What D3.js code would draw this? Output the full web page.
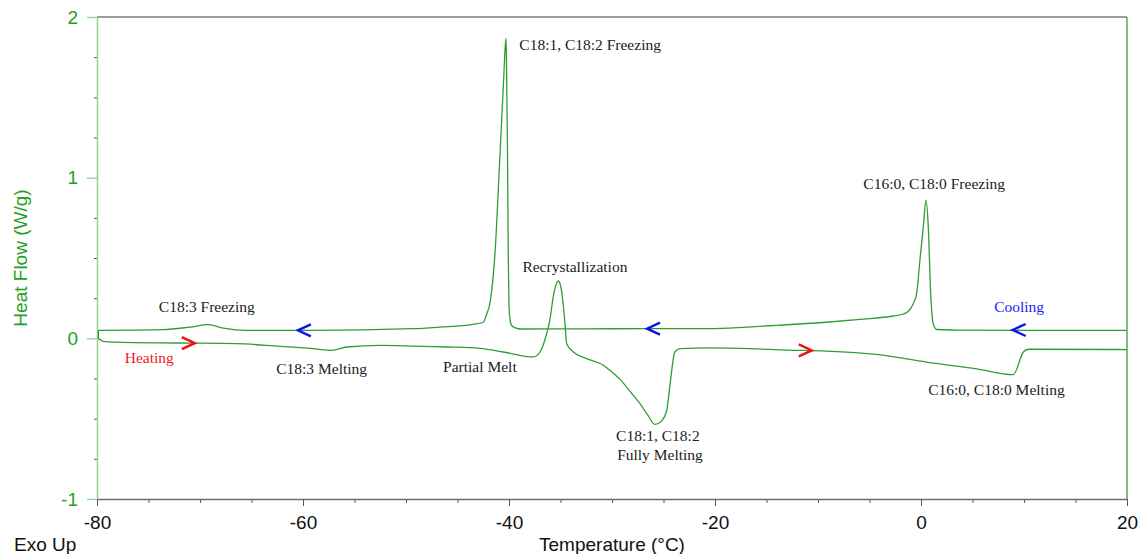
<!DOCTYPE html>
<html>
<head>
<meta charset="utf-8">
<script src="https://cdn.jsdelivr.net/npm/d3@7"></script>
<style>
  body { margin: 0; background: #fff; }
  #container { width: 1143px; height: 554px; }
  .tick text { font-family: "Liberation Sans", Arial, sans-serif; }
</style>
</head>
<body>
<div id="container"></div>
<script>
// temperature (°C), heat flow (W/g)
const coolingT = [-79.87, -73.56, -70.97, -69.19, -67.74, -65.47, -59.03, -49.32, -46.7, -43.5, -42.49, -42.17, -41.85, -41.36, -40.87, -40.55, -40.35, -40.29, -40.25, -40.15, -40.07, -40.0, -39.9, -39.75, -39.3, -38.9, -26.7, -20.5, -16.9, -14.0, -9.2, -5.9, -2.7, -1.8, -1.2, -0.75, -0.42, -0.1, 0.22, 0.49, 0.71, 0.94, 1.19, 1.52, 3, 10, 20];
const coolingHF = [0.05, 0.054, 0.07, 0.085, 0.064, 0.05, 0.05, 0.06, 0.07, 0.087, 0.1, 0.15, 0.22, 0.53, 1.15, 1.57, 1.83, 1.867, 1.75, 1.2, 0.5, 0.2, 0.12, 0.08, 0.063, 0.058, 0.06, 0.06, 0.07, 0.081, 0.1, 0.118, 0.139, 0.15, 0.17, 0.215, 0.28, 0.49, 0.69, 0.86, 0.69, 0.28, 0.09, 0.055, 0.052, 0.05, 0.05];

const heatingT = [-79.87, -79.85, -79.7, -79.39, -78.4, -71.94, -66.44, -62.23, -59.03, -57.21, -55.76, -52.52, -49.32, -46.05, -43.8, -42.8, -40.55, -37.64, -36.99, -36.34, -36.02, -35.7, -35.4, -35.21, -35.0, -34.75, -34.55, -34.4, -33.75, -32.46, -30.84, -30.19, -29.2, -28.25, -27.28, -26.5, -25.83, -25.2, -24.69, -24.37, -23.9, -23.4, -20.5, -16.6, -13.04, -9.2, -4.3, 0.55, 5.4, 8.96, 9.94, 10.4, 20];
const heatingHF = [0.05, 0.0, -0.008, -0.019, -0.023, -0.029, -0.033, -0.05, -0.064, -0.075, -0.054, -0.044, -0.048, -0.054, -0.058, -0.063, -0.085, -0.116, -0.085, 0.03, 0.12, 0.26, 0.34, 0.357, 0.33, 0.22, 0.08, -0.033, -0.085, -0.126, -0.168, -0.2, -0.257, -0.33, -0.407, -0.48, -0.536, -0.515, -0.449, -0.29, -0.085, -0.064, -0.06, -0.064, -0.073, -0.079, -0.1, -0.148, -0.19, -0.226, -0.085, -0.068, -0.07];

const xTicks = [-80, -60, -40, -20, 0, 20];
const yTicks = [-1, 0, 1, 2];

const labelText = ["C18:1, C18:2 Freezing", "Recrystallization", "C18:3 Freezing", "Heating", "C18:3 Melting", "Partial Melt", "C18:1, C18:2", "Fully Melting", "C16:0, C18:0 Freezing", "Cooling", "C16:0, C18:0 Melting"];
const labelT = [-39.0, -38.7, -74.0, -77.3, -62.6, -46.4, -29.6, -29.5, -5.6, 7.1, 0.7];
const labelHF = [1.795, 0.41, 0.165, -0.155, -0.225, -0.21, -0.64, -0.755, 0.93, 0.165, -0.355];

// direction arrows: -1 = cooling (blue, pointing left), 1 = heating (red, pointing right)
const arrowT = [-60.5, -26.6, 8.9, -70.5, -10.6];
const arrowHF = [0.05, 0.06, 0.052, -0.03, -0.075];
const arrowDir = [-1, -1, -1, 1, 1];

const w = 1143;
const h = 554;
const m = { left: 97, right: 16, top: 17, bottom: 55 };
const green = "#2f9e2f";

const svg = d3.select("#container")
  .append("svg")
  .attr("width", w)
  .attr("height", h);

const xScale = d3.scaleLinear()
  .domain([-80, 20])
  .range([m.left, w - m.right]);

const yScale = d3.scaleLinear()
  .domain([-1, 2])
  .range([h - m.bottom, m.top]);

// frame: top grey, right green
svg.append("line")
  .attr("x1", m.left).attr("x2", w - m.right)
  .attr("y1", m.top).attr("y2", m.top)
  .attr("stroke", "#7a7a7a").attr("stroke-width", 1.5);
svg.append("line")
  .attr("x1", w - m.right).attr("x2", w - m.right)
  .attr("y1", m.top).attr("y2", h - m.bottom)
  .attr("stroke", "#3c9c3c").attr("stroke-width", 1.3);

// minor x ticks
const xMinor = d3.range(-80, 21, 5).filter((d) => d % 20 !== 0);
svg.append("g")
  .attr("transform", "translate(0," + (h - m.bottom) + ")")
  .call(d3.axisBottom(xScale).tickValues(xMinor).tickSize(4).tickFormat(""))
  .call((g) => g.select(".domain").remove())
  .call((g) => g.selectAll("line").attr("stroke", "#555"));

const xAxis = svg.append("g")
  .attr("transform", "translate(0," + (h - m.bottom) + ")")
  .call(d3.axisBottom(xScale).tickValues(xTicks).tickSize(7).tickSizeOuter(0).tickPadding(10).tickFormat(d3.format("d")));
xAxis.select(".domain").attr("stroke", "#6e6e6e").attr("stroke-width", 1.5);
xAxis.selectAll("line").attr("stroke", "#555");
xAxis.selectAll("text")
  .attr("font-size", "19px")
  .attr("fill", "#111")
  .text((d) => d < 0 ? "-" + Math.abs(d) : d);

// minor y ticks
const yMinor = d3.range(-1, 2.01, 0.25).filter((d) => Math.abs(d - Math.round(d)) > 0.01);
svg.append("g")
  .attr("transform", "translate(" + m.left + ",0)")
  .call(d3.axisLeft(yScale).tickValues(yMinor).tickSize(3).tickFormat(""))
  .call((g) => g.select(".domain").remove())
  .call((g) => g.selectAll("line").attr("stroke", "#555"));

const yAxis = svg.append("g")
  .attr("transform", "translate(" + m.left + ",0)")
  .call(d3.axisLeft(yScale).tickValues(yTicks).tickSize(10).tickSizeOuter(0).tickPadding(9).tickFormat(d3.format("d")));
yAxis.select(".domain").attr("stroke", "#8fd38f").attr("stroke-width", 1.5);
yAxis.selectAll("line").attr("stroke", "#8fd38f").attr("stroke-width", 1.3);
yAxis.selectAll("text")
  .attr("font-size", "19px")
  .attr("fill", "#22a022")
  .text((d) => d < 0 ? "-" + Math.abs(d) : d);

// axis titles
svg.append("text")
  .attr("transform", "translate(27," + ((m.top + h - m.bottom) / 2) + ") rotate(-90)")
  .attr("text-anchor", "middle")
  .attr("font-family", "Liberation Sans, Arial, sans-serif")
  .attr("font-size", "19px")
  .attr("fill", "#22a022")
  .text("Heat Flow (W/g)");

svg.append("text")
  .attr("x", 612)
  .attr("y", 551)
  .attr("text-anchor", "middle")
  .attr("font-family", "Liberation Sans, Arial, sans-serif")
  .attr("font-size", "19px")
  .attr("fill", "#111")
  .text("Temperature (°C)");

svg.append("text")
  .attr("x", 14)
  .attr("y", 551)
  .attr("font-family", "Liberation Sans, Arial, sans-serif")
  .attr("font-size", "19px")
  .attr("fill", "#111")
  .text("Exo Up");

// curves
const line = d3.line()
  .x((d) => xScale(d[0]))
  .y((d) => yScale(d[1]))
  .curve(d3.curveMonotoneX);

const cooling = coolingT.map((t, i) => [t, coolingHF[i]]);
const heating = heatingT.map((t, i) => [t, heatingHF[i]]);

svg.selectAll("path.curve")
  .data([cooling, heating])
  .enter()
  .append("path")
  .attr("class", "curve")
  .attr("d", (d) => line(d))
  .attr("fill", "none")
  .attr("stroke", green)
  .attr("stroke-width", 1.3);

// arrows
const arrows = arrowT.map((t, i) => ({ t: t, v: arrowHF[i], dir: arrowDir[i] }));
svg.selectAll("path.arrow")
  .data(arrows)
  .enter()
  .append("path")
  .attr("class", "arrow")
  .attr("d", (d) => {
    const x = xScale(d.t);
    const y = yScale(d.v);
    const back = x - d.dir * 13;
    return "M" + back + "," + (y - 6) + "L" + x + "," + y + "L" + back + "," + (y + 6);
  })
  .attr("fill", "none")
  .attr("stroke", (d) => d.dir < 0 ? "#1010ee" : "#ee1010")
  .attr("stroke-width", 2.4)
  .attr("stroke-linejoin", "miter");

// annotations
const labels = labelText.map((s, i) => ({ s: s, t: labelT[i], v: labelHF[i] }));
svg.selectAll("text.note")
  .data(labels)
  .enter()
  .append("text")
  .attr("class", "note")
  .attr("x", (d) => xScale(d.t))
  .attr("y", (d) => yScale(d.v))
  .attr("font-family", "Liberation Serif, Times New Roman, serif")
  .attr("font-size", "15.5px")
  .attr("fill", (d) => d.s === "Heating" ? "#ee1c1c" : d.s === "Cooling" ? "#1c1cee" : "#222")
  .text((d) => d.s);
</script>
</body>
</html>
